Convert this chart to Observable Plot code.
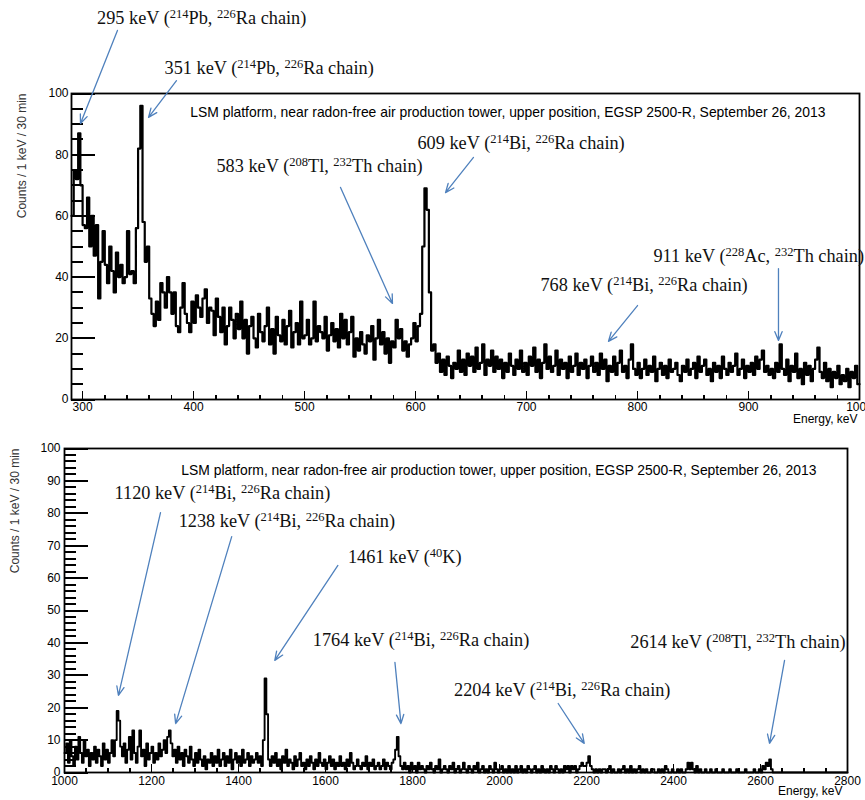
<!DOCTYPE html>
<html><head><meta charset="utf-8">
<script src="https://cdn.jsdelivr.net/npm/d3@7"></script>
<script src="https://cdn.jsdelivr.net/npm/@observablehq/plot@0.6"></script>
<style>
html,body{margin:0;padding:0;background:#fff;overflow:hidden;}
#chart{position:relative;width:865px;height:800px;background:#fff;}
#chart svg{display:block;}
</style></head><body><div id="chart"></div>
<script>
// ---------- data ----------
const titleText = "LSM platform, near radon-free air production tower, upper position, EGSP 2500-R, September 26, 2013";
const yTitle = "Counts / 1 keV / 30 min";
const xTitle = "Energy, keV";

// upper spectrum: counts per keV, bins of 2 keV starting at 290 keV
const upperStart = 290, upperBin = 2;
const upperCounts = [
  60,75,72,87,70,57,56,66,50,60, // 290
  47,57,33,45,55,44,38,50,42,35, // 310
  48,40,44,38,40,55,41,42,38,56, // 330
  82,96,58,45,50,33,28,24,32,26, // 350
  38,35,30,40,35,28,35,24,22,30, // 370
  38,28,25,22,32,25,34,30,27,33, // 390
  36,25,30,29,21,33,27,22,30,18, // 410
  24,30,26,20,28,23,32,20,26,15, // 430
  24,27,20,17,28,22,19,24,30,18, // 450
  23,15,27,21,19,26,18,24,29,17, // 470
  22,25,18,32,20,21,26,18,20,32, // 490
  19,24,22,20,27,16,21,25,19,23, // 510
  17,28,20,26,18,22,27,14,20,16, // 530
  22,18,15,21,19,24,13,20,26,18, // 550
  22,15,20,12,19,17,26,20,23,16, // 570
  19,14,18,20,25,19,24,28,50,69, // 590
  62,35,16,18,12,15,9,13,8,14,   // 610
  11,7,12,10,16,9,13,8,15,11,    // 630
  14,9,17,10,12,18,8,13,11,16,   // 650
  9,14,10,13,7,12,9,15,11,8,     // 670
  13,10,16,9,12,8,14,11,17,9,    // 690
  13,7,12,18,10,14,9,11,16,8,    // 710
  13,10,12,7,14,9,11,15,8,12,    // 730
  10,13,7,11,14,9,12,8,15,10,    // 750
  13,6,11,9,14,8,12,16,9,11,     // 770
  7,13,18,10,8,12,7,10,13,8,     // 790
  11,9,14,6,10,12,8,11,7,13,     // 810
  9,10,12,8,6,11,9,13,8,10,      // 830
  12,7,14,9,11,13,8,10,6,12,     // 850
  9,11,7,14,10,8,12,9,11,15,     // 870
  8,10,13,7,11,9,12,8,14,10,     // 890
  13,16,9,11,8,10,7,12,9,18,     // 910
  10,8,13,6,11,9,15,7,10,5,      // 930
  12,8,11,6,10,13,17,9,7,12,     // 950
  6,10,4,9,7,11,5,8,6,10,        // 970
  4,9,7,11,5                     // 990
];

// lower spectrum: counts per keV, bins of 4 keV starting at 1000 keV
const lowerStart = 1000, lowerBin = 4;
const lowerCounts = [
  6,9,3,10,5,2,8,4,11,6,    // 1000
  3,10,5,7,2,6,4,8,3,7,     // 1040
  5,2,9,4,7,3,6,10,5,10,    // 1080
  19,16,8,5,9,3,7,11,4,13,  // 1120
  6,3,8,13,5,7,2,9,4,6,     // 1160
  8,3,6,4,9,5,7,10,6,11,    // 1200
  13,9,5,7,3,8,4,6,2,7,     // 1240
  5,3,8,4,2,6,3,7,4,2,      // 1280
  5,1,4,3,6,2,5,3,7,2,      // 1320
  4,6,2,5,3,7,1,4,6,3,      // 1360
  5,2,7,3,4,6,2,5,3,4,      // 1400
  6,3,5,2,10,29,18,4,2,5,   // 1440
  3,6,2,4,1,5,3,7,2,4,      // 1480
  3,1,5,2,4,6,2,3,1,4,      // 1520
  2,5,3,1,4,2,6,3,2,4,      // 1560
  1,3,5,2,4,1,3,2,5,2,      // 1600
  3,1,4,2,6,3,1,2,4,2,      // 1640
  1,3,2,5,1,3,2,4,1,2,      // 1680
  3,1,2,4,1,3,2,1,3,4,      // 1720
  7,11,5,2,1,3,1,2,0,3,     // 1760
  1,2,0,3,1,2,1,0,2,1,      // 1800
  3,1,0,2,1,4,0,1,2,1,      // 1840
  0,2,1,3,0,1,2,0,1,3,      // 1880
  1,0,2,1,0,2,1,3,0,1,      // 1920
  2,0,1,0,2,1,0,3,1,0,      // 1960
  1,2,0,1,0,2,0,1,0,2,      // 2000
  0,1,2,0,1,0,2,1,0,1,      // 2040
  2,0,1,0,2,1,0,1,0,2,      // 2080
  1,0,2,1,0,1,0,2,1,2,      // 2120
  0,2,1,2,0,1,2,3,2,2,      // 2160
  3,5,2,1,0,1,0,1,0,1,      // 2200
  1,0,1,2,0,1,0,0,1,0,      // 2240
  1,2,0,1,0,2,0,1,0,1,      // 2280
  2,0,1,0,1,0,0,1,1,0,      // 2320
  0,1,0,1,0,2,1,0,0,1,      // 2360
  0,0,1,0,1,0,0,1,3,1,      // 2400
  3,1,0,2,0,1,0,0,1,0,      // 2440
  0,1,0,0,1,0,0,0,1,0,      // 2480
  0,0,1,0,0,0,1,0,0,0,      // 2520
  0,1,0,0,0,0,1,0,0,1,      // 2560
  0,2,1,3,2,4,1,0,0,0,      // 2600
  0,0,0,0,0,0,0,0,0,0,      // 2640
  0,0,0,0,0,0,0,0,0,0,      // 2680
  0,0,0,0,0,0,0,0,0,0,      // 2720
  0,0,0,0,0,0,0,0,0,0       // 2760
];

// axis ticks
const upperXMajor = [300,400,500,600,700,800,900,1000];
const upperXMinor = d3.range(300, 1001, 20);
const upperYMajor = [0,20,40,60,80,100];
const upperYMinor = d3.range(0, 101, 5);
const lowerXMajor = [1000,1200,1400,1600,1800,2000,2200,2400,2600,2800];
const lowerXMinor = d3.range(1000, 2801, 50);
const lowerYMajor = [0,10,20,30,40,50,60,70,80,90,100];
const lowerYMinor = d3.range(0, 101, 2);

// annotations: label anchor (tx, ty) and arrow (x1,y1)->(x2,y2), in keV / counts
const upperNotes = [
  {text: "295 keV ({214}Pb, {226}Ra chain)", tx: 313, ty: 124.5, x1: 331.4, y1: 120.6, x2: 298.1, y2: 90.2},
  {text: "351 keV ({214}Pb, {226}Ra chain)", tx: 373.8, ty: 108.2, x1: 384.6, y1: 104.2, x2: 359.4, y2: 92.2},
  {text: "583 keV ({208}Tl, {232}Th chain)", tx: 420.6, ty: 76.1, x1: 532.4, y1: 69.3, x2: 579.2, y2: 31.4},
  {text: "609 keV ({214}Bi, {226}Ra chain)", tx: 601.7, ty: 83.7, x1: 652.2, y1: 79.1, x2: 627, y2: 67.6},
  {text: "911 keV ({228}Ac, {232}Th chain)", tx: 814.3, ty: 46.7, x1: 927, y1: 42.8, x2: 927, y2: 19.3},
  {text: "768 keV ({214}Bi, {226}Ra chain)", tx: 712.5, ty: 37.3, x1: 800, y1: 30.7, x2: 773.8, y2: 19.0}
];
const lowerNotes = [
  {text: "1120 keV ({214}Bi, {226}Ra chain)", tx: 1115, ty: 86.1, x1: 1220.7, y1: 80.2, x2: 1124, y2: 23.8},
  {text: "1238 keV ({214}Bi, {226}Ra chain)", tx: 1262.4, ty: 77.5, x1: 1384.4, y1: 72.8, x2: 1255.5, y2: 15.1},
  {text: "1461 keV ({40}K)", tx: 1651.5, ty: 66.4, x1: 1628.5, y1: 63.9, x2: 1483.4, y2: 34.6},
  {text: "1764 keV ({214}Bi, {226}Ra chain)", tx: 1570.9, ty: 40.7, x1: 1759.6, y1: 34, x2: 1773.5, y2: 15.1},
  {text: "2204 keV ({214}Bi, {226}Ra chain)", tx: 1895.5, ty: 25.3, x1: 2134.9, y1: 21.3, x2: 2194.8, y2: 9.0},
  {text: "2614 keV ({208}Tl, {232}Th chain)", tx: 2300.6, ty: 40.1, x1: 2655.3, y1: 34.6, x2: 2620.8, y2: 9.0}
];

// ---------- drawing ----------
const SANS = "'Liberation Sans', Arial, Helvetica, sans-serif";
const SERIF = "'Liberation Serif', 'Times New Roman', serif";

function superscripts(svg) {
  d3.select(svg).selectAll("text").each(function () {
    const t = this.textContent;
    if (!t.includes("{")) return;
    const sel = d3.select(this);
    sel.text(null);
    const parts = t.split(/\{(\d+)\}/);
    let prevSup = false;
    parts.forEach((p, i) => {
      if (!p) return;
      if (i % 2 === 1) {
        sel.append("tspan").attr("dy", -6).attr("font-size", 12.5).text(p);
        prevSup = true;
      } else {
        const ts = sel.append("tspan").text(p);
        if (prevSup) ts.attr("dy", 6);
        prevSup = false;
      }
    });
  });
}

function panel(o) {
  const iw = o.width - o.ml - o.mr, ih = o.height - o.mt - o.mb;
  const pts = o.counts.map((c, i) => ({e: o.start + i * o.bin, c}));
  pts.push({e: o.start + o.counts.length * o.bin, c: o.counts[o.counts.length - 1]});
  const tickStyle = {stroke: "#000", strokeOpacity: 1, shapeRendering: "crispEdges"};
  const svg = Plot.plot({
    width: o.width, height: o.height,
    marginTop: o.mt, marginRight: o.mr, marginBottom: o.mb, marginLeft: o.ml,
    x: {domain: o.xDomain},
    y: {domain: [0, 100]},
    style: {fontFamily: SANS, fontSize: "12px", color: "#000", background: "#fff"},
    marks: [
      Plot.line(pts, {x: "e", y: "c", curve: "step-after", stroke: "#000", strokeWidth: o.lineWidth}),
      Plot.tickY(o.yMinor, {y: d => d, insetRight: iw - 12, strokeWidth: 2, ...tickStyle}),
      Plot.tickY(o.yMajor, {y: d => d, insetRight: iw - 24, strokeWidth: 2, ...tickStyle}),
      Plot.tickX(o.xMinor, {x: d => d, insetTop: ih - 4, strokeWidth: 1.6, ...tickStyle}),
      Plot.tickX(o.xMajor, {x: d => d, insetTop: ih - 8, strokeWidth: 1.6, ...tickStyle}),
      Plot.frame({stroke: "#000", strokeWidth: 1.8}),
      Plot.axisY(o.yMajor, {tickSize: 0, tickPadding: o.yPad, label: null, tickFormat: d3.format("d"), fontSize: 12}),
      Plot.axisX(o.xMajor, {tickSize: 0, tickPadding: o.xPad, label: null, tickFormat: d3.format("d"), fontSize: 12}),
      Plot.text([xTitle], {frameAnchor: "bottom-right", textAnchor: "end", dx: o.xtDx, dy: o.xtDy, fontSize: 12}),
      Plot.text([yTitle], {frameAnchor: "top-left", textAnchor: "end", rotate: -90, dx: o.ytX - o.ml, fontSize: 12, fill: "#333"}),
      Plot.text([titleText], {frameAnchor: "top-right", textAnchor: "end", dx: o.titleDx, dy: o.titleDy, fontSize: 13.9}),
      Plot.arrow(o.notes, {x1: "x1", y1: "y1", x2: "x2", y2: "y2", stroke: "#4f81bd", strokeWidth: 1.3, headLength: 11, headAngle: 45}),
      Plot.text(o.notes, {x: "tx", y: "ty", text: "text", textAnchor: "start", fontFamily: SERIF, fontSize: 18.3, fill: "#111"})
    ]
  });
  superscripts(svg);
  return svg;
}

const chart = document.getElementById("chart");
chart.appendChild(panel({
  counts: upperCounts, start: upperStart, bin: upperBin, xDomain: [290, 1000], lineWidth: 2.2,
  xMajor: upperXMajor, xMinor: upperXMinor, yMajor: upperYMajor, yMinor: upperYMinor,
  notes: upperNotes, width: 865, height: 430, mt: 93, mr: 6, mb: 31, ml: 71,
  yPad: 3, xPad: 3, xtDx: -2, xtDy: 23, ytX: 17, titleDx: -34, titleDy: 14
}));
chart.appendChild(panel({
  counts: lowerCounts, start: lowerStart, bin: lowerBin, xDomain: [1000, 2800], lineWidth: 1.9,
  xMajor: lowerXMajor, xMinor: lowerXMinor, yMajor: lowerYMajor, yMinor: lowerYMinor,
  notes: lowerNotes, width: 865, height: 370, mt: 18, mr: 18, mb: 28, ml: 64,
  yPad: 4, xPad: 4, xtDx: -5, xtDy: 22, ytX: 10, titleDx: -31, titleDy: 17
}));
</script>
</body></html>
